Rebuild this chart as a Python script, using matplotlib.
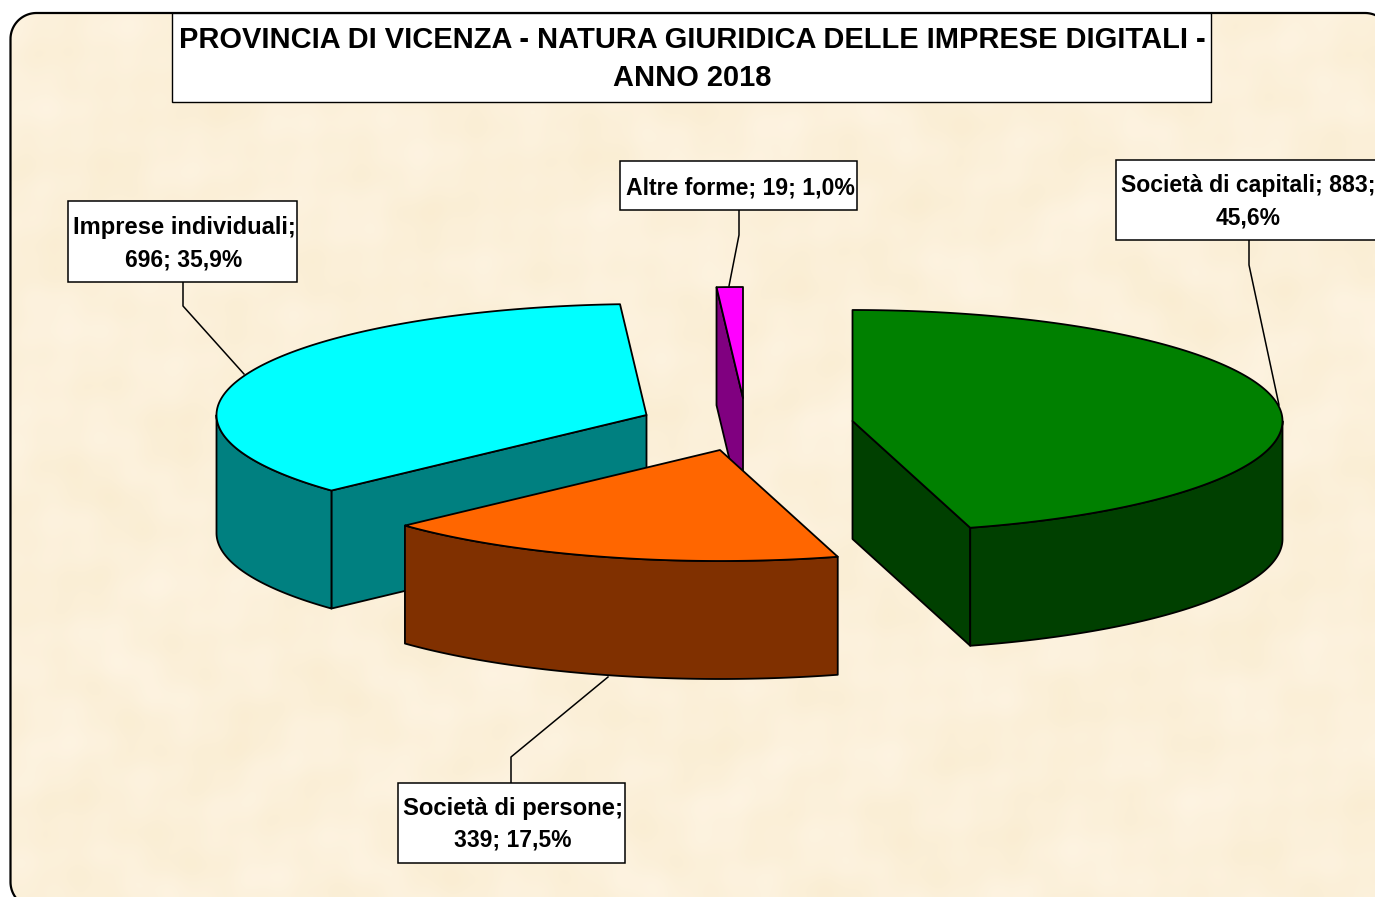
import numpy as np
import matplotlib
matplotlib.use("Agg")
import matplotlib.pyplot as plt
from matplotlib.patches import Polygon, Rectangle

categories = ["Società di capitali", "Società di persone", "Imprese individuali", "Altre forme"]
values = [883, 339, 696, 19]
top_colors = ["#008000", "#FF6600", "#00FFFF", "#FF00FF"]
side_colors = ["#004000", "#803000", "#008080", "#800080"]
title_lines = ["PROVINCIA DI VICENZA - NATURA GIURIDICA DELLE IMPRESE DIGITALI -", "ANNO 2018"]

W, H = 1375, 897
RX, RY, DEPTH = 430, 111, 118
apex = [(852.5, 421), (720, 450), (646.5, 415), (743, 398)]
draw_order = [3, 2, 0, 1]
boxes = [(1116, 160, 1385, 240), (398, 783, 625, 863), (68, 201, 297, 282), (620, 161, 857, 210)]
label_xy = [(1248, 185.5, 217.5), (513, 808.5, 840.5), (184, 227.5, 259.5), (740, 187.5, None)]
first_line_size = [16.6, 17.2, 17.1, 16.55]
leaders = [
    [(1249, 240), (1249, 265), (1279, 405)],
    [(511, 783), (511, 757), (608, 677)],
    [(183, 282), (183, 306), (244, 374)],
    [(739, 210), (739, 235), (729, 286)],
]

plt.rcParams["font.family"] = ["Liberation Sans", "DejaVu Sans"]
plt.rcParams["path.simplify"] = False
fig = plt.figure(figsize=(W / 100, H / 100), dpi=100, facecolor="white")
ax = fig.add_axes([0, 0, 1, 1])
ax.set_xlim(0, W)
ax.set_ylim(H, 0)
ax.axis("off")


def rounded_outline(x0, y0, x1, y1, r):
    corners = [(x0 + r, y0 + r, 180), (x1 - r, y0 + r, 270), (x1 - r, y1 - r, 0), (x0 + r, y1 - r, 90)]
    pts = []
    for cx, cy, start in corners:
        t = np.radians(np.linspace(start, start + 90, 30))
        pts.append(np.column_stack([cx + r * np.cos(t), cy + r * np.sin(t)]))
    return np.vstack(pts)


# parchment background
outline = rounded_outline(10.5, 13, 1391, 908, 26)
frame = Polygon(outline, closed=True, fc="#FBF0DC", ec="none", zorder=0)
ax.add_patch(frame)
yy, xx = np.mgrid[0:H:3, 0:W:3]
tex = (np.sin(xx / 19 + np.sin(yy / 31) * 2) + np.sin(yy / 17 + np.sin(xx / 41) * 2)
       + 0.7 * np.sin((xx + yy) / 11) * np.sin((xx - yy) / 13)
       + 0.8 * np.sin(xx / 67 + yy / 53))
tex = (tex - tex.min()) / (tex.max() - tex.min())
c0, c1 = np.array([0.980, 0.930, 0.825]), np.array([0.995, 0.955, 0.885])
img = c0 + (c1 - c0) * tex[..., None]
im = ax.imshow(img, extent=(0, W, H, 0), aspect="auto", interpolation="bilinear", zorder=0.5)
im.set_clip_path(frame)
ax.set_xlim(0, W)
ax.set_ylim(H, 0)
ax.add_patch(Polygon(outline, closed=True, fc="none", ec="black", lw=1.6, zorder=1))

# pie slices: angles clockwise from 12 o'clock
total = sum(values)
edges = np.concatenate([[0], np.cumsum(values)]) / total * 2 * np.pi


def pt(c, a, dz=0):
    return np.column_stack([c[0] + RX * np.sin(a), c[1] - RY * np.cos(a) + dz])


for z, i in enumerate(draw_order):
    c = apex[i]
    a0, a1 = edges[i], edges[i + 1]
    zo = 2 + z
    kw = dict(ec="black", lw=1.3, joinstyle="round", zorder=zo)
    # radial walls
    for a in (a0, a1):
        p = pt(c, np.array([a]))[0]
        if (i == 0 and a == a1) or (i == 2 and a == a0) or (i == 3 and a == a0):
            q = [c, p, (p[0], p[1] + DEPTH), (c[0], c[1] + DEPTH)]
            ax.add_patch(Polygon(q, fc=side_colors[i], **kw))
    # outer wall (front half of the rim)
    lo, hi = max(a0, np.pi / 2), min(a1, 3 * np.pi / 2)
    if hi > lo:
        t = np.linspace(lo, hi, 200)
        wall = np.vstack([pt(c, t), pt(c, t[::-1], DEPTH)])
        ax.add_patch(Polygon(wall, fc=side_colors[i], **kw))
    # top face
    t = np.linspace(a0, a1, 300)
    ax.add_patch(Polygon(np.vstack([[c], pt(c, t)]), fc=top_colors[i], **kw))

# leader lines
for path in leaders:
    xs, ys = zip(*path)
    ax.plot(xs, ys, color="black", lw=1.1, zorder=9)

# title box
ax.add_patch(Rectangle((172, 13), 1039, 89, fc="white", ec="black", lw=1.0, zorder=10))
for s, y in zip(title_lines, (40.5, 78.5)):
    ax.text(692.5, y, s, ha="center", va="center", fontsize=20.85, fontweight="bold", zorder=11)

# data labels
for i, name in enumerate(categories):
    x0, y0, x1, y1 = boxes[i]
    ax.add_patch(Rectangle((x0, y0), x1 - x0, y1 - y0, fc="white", ec="black", lw=1.1, zorder=10))
    pct = f"{values[i] / total * 100:.1f}%".replace(".", ",")
    x, ya, yb = label_xy[i]
    if i == 0:
        lines = [f"{name}; {values[i]};", pct]
    elif i == 3:
        lines = [f"{name}; {values[i]}; {pct}"]
    else:
        lines = [f"{name};", f"{values[i]}; {pct}"]
    for k, (s, y) in enumerate(zip(lines, (ya, yb))):
        size = first_line_size[i] if k == 0 else 16.5
        ax.text(x, y, s, ha="center", va="center", fontsize=size, fontweight="bold", zorder=11)

fig.savefig("out.png", dpi=100, facecolor="white")
